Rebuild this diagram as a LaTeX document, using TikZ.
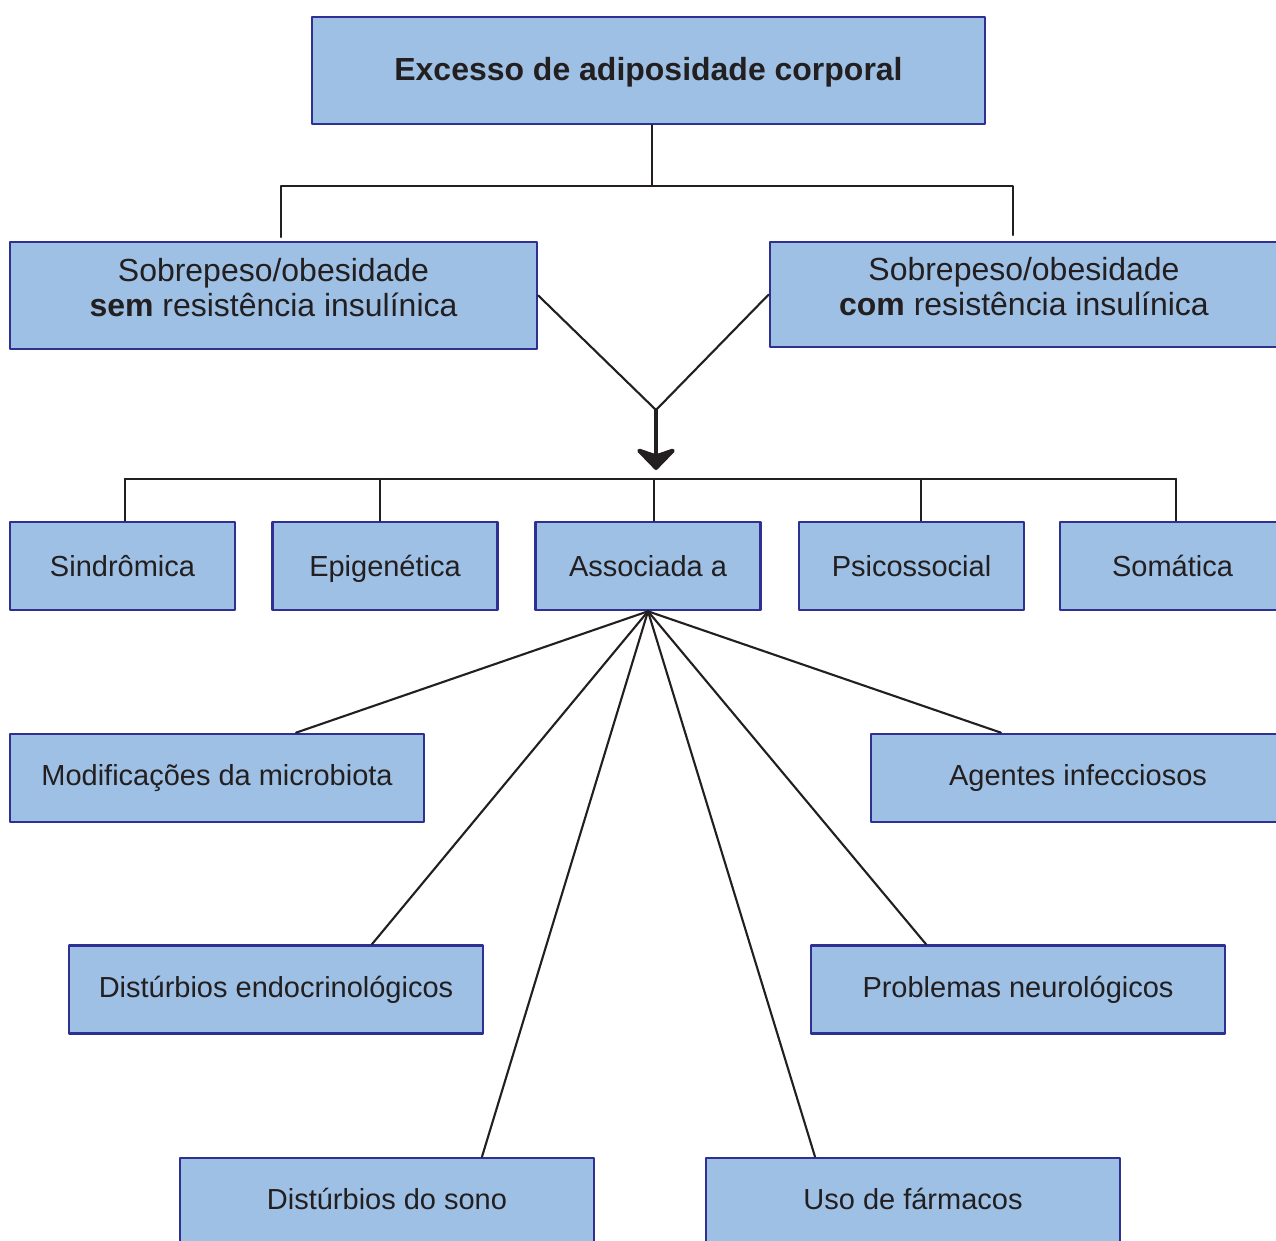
\documentclass[tikz,border=0pt]{standalone}
\usepackage{fontspec}
\setmainfont{Liberation Sans}
\usetikzlibrary{arrows.meta}
\definecolor{boxfill}{HTML}{9DC0E4}
\definecolor{boxline}{HTML}{2E3192}
\definecolor{ink}{HTML}{231F20}
\newcommand{\fsbig}{\fontsize{18.2pt}{19.8pt}\selectfont}
\newcommand{\fssmall}{\fontsize{16.5pt}{19pt}\selectfont}

\begin{document}
\begin{tikzpicture}[x=0.02cm,y=-0.02cm,line cap=round,line join=round,
  box/.style={draw=boxline,fill=boxfill,line width=1.5pt,text=ink,inner sep=0pt},
  level/.style={box,font=\fssmall,text height=11.8pt,text depth=0pt,minimum width=4.5cm,minimum height=1.76cm},
  cause/.style={box,font=\fssmall,text height=11.8pt,text depth=2.8pt,minimum width=8.28cm,minimum height=1.76cm},
  twoline/.style={box,font=\fsbig,align=center},
  conn/.style={draw=ink,line width=1.2pt}]
  \useasboundingbox (0,0) rectangle (1276,1241);
  \clip (0,0) rectangle (1276,1241);
  \node[box,font=\fsbig\bfseries,text height=13pt,text depth=1.7pt,minimum width=13.46cm,minimum height=2.14cm] (excesso) at (648.5,70.5) {Excesso de adiposidade corporal};
  \node[twoline,minimum width=10.54cm,minimum height=2.14cm] (sem) at (273.5,295.5) {Sobrepeso/obesidade\\\textbf{sem} resistência insulínica\\[-16.7pt]\strut};
  \node[twoline,minimum width=10.16cm,minimum height=2.1cm] (com) at (1024,294.5) {Sobrepeso/obesidade\\\textbf{com} resistência insulínica\\[-16.7pt]\strut};
  \foreach \n/\x/\t in {sindromica/122.5/Sindrômica, epigenetica/385/Epigenética, associada/648/Associada a, psicossocial/911.5/Psicossocial, somatica/1172.5/Somática} {
    \node[level] (\n) at (\x,566) {\t};
  }
  \node[cause] (microbiota) at (217,778) {Modificações da microbiota};
  \node[cause] (infecciosos) at (1078,778) {Agentes infecciosos};
  \node[cause] (endocrino) at (276,989.5) {Distúrbios endocrinológicos};
  \node[cause] (neuro) at (1018,989.5) {Problemas neurológicos};
  \node[cause] (sono) at (387,1202) {Distúrbios do sono};
  \node[cause] (farmacos) at (913,1202) {Uso de fármacos};
  \coordinate (split) at (652,186);
  \coordinate (semdrop) at (281,237);
  \coordinate (comdrop) at (1013,235);
  \draw[conn] (excesso.south -| split) -- (split);
  \draw[conn] (semdrop) |- (split) -| (comdrop);
  \coordinate (meet) at (656,410);
  \coordinate (tip) at (656,470);
  \draw[conn] (sem.east) -- (meet) -- (com.west);
  \draw[conn,line width=2.3pt,-{Stealth[length=14pt,width=27pt,inset=4.5pt,round]}] (meet) -- (tip);
  \coordinate (busl) at (125,479);
  \coordinate (busr) at (1176,479);
  \draw[conn] (busl) -- (busr);
  \foreach \n/\x in {sindromica/125, epigenetica/380, associada/654, psicossocial/921, somatica/1176} {
    \draw[conn] (\x,479) -- (\x,479 |- \n.north);
  }
  \foreach \n/\x in {microbiota/296, infecciosos/1001, endocrino/372, neuro/926, sono/482, farmacos/815} {
    \draw[conn] (associada.south) -- (\x,0 |- \n.north);
  }
\end{tikzpicture}
\end{document}
